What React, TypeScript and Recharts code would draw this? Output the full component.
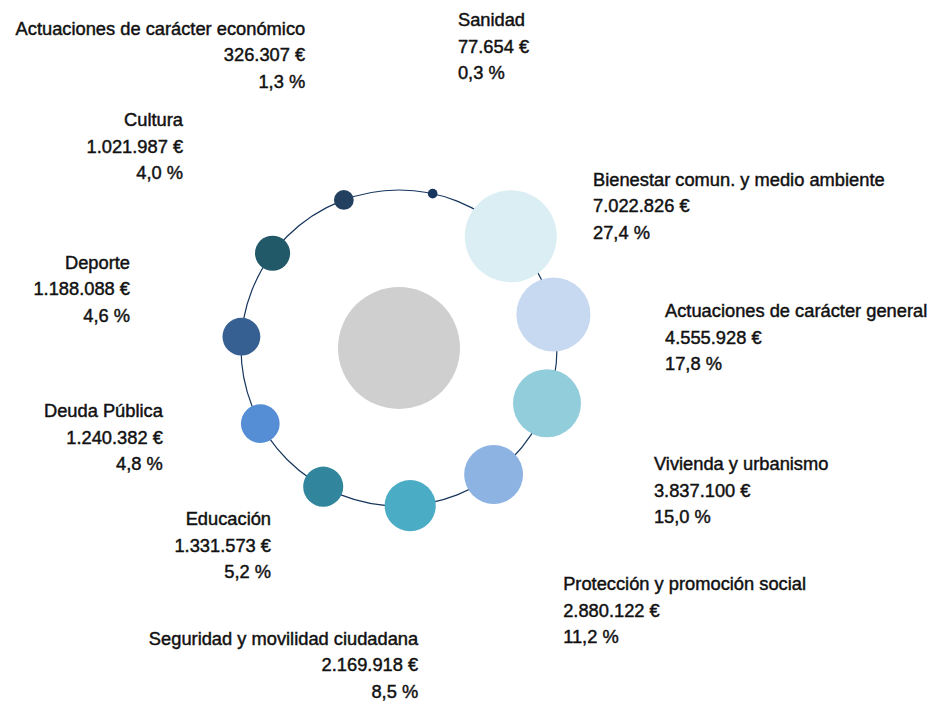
import { ScatterChart, Scatter, XAxis, YAxis, ZAxis } from 'recharts'

// Budget areas, clockwise from the top of the ring
const NAMES = [
  'Sanidad',
  'Bienestar comun. y medio ambiente',
  'Actuaciones de carácter general',
  'Vivienda y urbanismo',
  'Protección y promoción social',
  'Seguridad y movilidad ciudadana',
  'Educación',
  'Deuda Pública',
  'Deporte',
  'Cultura',
  'Actuaciones de carácter económico',
]
const VALUES = [77654, 7022826, 4555928, 3837100, 2880122, 2169918, 1331573, 1240382, 1188088, 1021987, 326307]
const COLORS = [
  '#17365d', '#daeef3', '#c6d9f1', '#92cddc', '#8db3e2', '#4bacc6',
  '#31859c', '#558ed5', '#376092', '#215968', '#244061',
]

// label placement: angle (deg, clockwise from top) and distance in ring radii
const LABEL_ANGLE = [11.3, 55.0, 89.1, 120.3, 148.6, 176.6, 212.1, 247.9, 281.1, 312.1, 341.9]
const LABEL_DIST = [1.904, 1.499, 1.684, 1.869, 1.994, 2.048, 1.524, 1.613, 1.735, 1.842, 1.911]

const W = 934
const H = 702
const CX = 399
const CY = 348
const RING = 158
const START = 12.3
const MAX_R = 46
const CENTER_R = 61
const LINE = 26.5
const FONT = "'Liberation Sans', Arimo, sans-serif"

const total = VALUES.reduce((a, b) => a + b, 0)
const maxValue = Math.max(...VALUES)
const rad = (deg: number) => (deg * Math.PI) / 180
const fmtEuro = (v: number) => String(v).replace(/\B(?=(\d{3})+(?!\d))/g, '.') + ' €'
const fmtPct = (v: number) => ((v / total) * 100).toFixed(1).replace('.', ',') + ' %'

const bubbles = NAMES.map((name, i) => {
  const a = rad(START + (i * 360) / NAMES.length)
  return { name, value: VALUES[i], fill: COLORS[i], x: Math.sin(a), y: Math.cos(a) }
})

const labels = NAMES.map((name, i) => {
  const a = rad(LABEL_ANGLE[i])
  return {
    name,
    amount: fmtEuro(VALUES[i]),
    pct: fmtPct(VALUES[i]),
    anchor: LABEL_ANGLE[i] > 170 ? 'end' : 'start',
    x: LABEL_DIST[i] * Math.sin(a),
    y: LABEL_DIST[i] * Math.cos(a),
  }
})

const origin = [{ x: 0, y: 0 }]

function LabelShape(p: any) {
  const d = p.payload
  const style = {
    fontFamily: FONT,
    fontSize: 18.3,
    fill: '#111',
    stroke: '#111',
    strokeWidth: 0.45,
  }
  return (
    <g>
      <text x={p.cx} y={p.cy - LINE} textAnchor={d.anchor} style={style}>{d.name}</text>
      <text x={p.cx} y={p.cy} textAnchor={d.anchor} style={style}>{d.amount}</text>
      <text x={p.cx} y={p.cy + LINE} textAnchor={d.anchor} style={style}>{d.pct}</text>
    </g>
  )
}

export default function App() {
  return (
    <div style={{ position: 'absolute', left: 0, top: 0, width: W, height: H, background: '#fff' }}>
      <ScatterChart width={W} height={H} margin={{ top: 0, right: 0, bottom: 0, left: 0 }}>
        <XAxis type="number" dataKey="x" hide allowDataOverflow domain={[-CX / RING, (W - CX) / RING]} />
        <YAxis type="number" dataKey="y" hide allowDataOverflow domain={[-(H - CY) / RING, CY / RING]} />
        <ZAxis type="number" dataKey="value" domain={[0, maxValue]} range={[0, Math.PI * MAX_R * MAX_R]} />
        <Scatter
          data={origin}
          isAnimationActive={false}
          shape={(p: any) => <circle cx={p.cx} cy={p.cy} r={RING} fill="none" stroke="#17365d" strokeWidth={1.2} />}
        />
        <Scatter
          data={origin}
          isAnimationActive={false}
          shape={(p: any) => <circle cx={p.cx} cy={p.cy} r={CENTER_R} fill="#cfcfcf" />}
        />
        <Scatter
          data={bubbles}
          isAnimationActive={false}
          shape={(p: any) => (
            <circle
              cx={p.cx}
              cy={p.cy}
              r={p.width ? p.width / 2 : Math.sqrt(p.size / Math.PI)}
              fill={p.payload.fill}
            />
          )}
        />
        <Scatter data={labels} isAnimationActive={false} shape={LabelShape} />
      </ScatterChart>
    </div>
  )
}
